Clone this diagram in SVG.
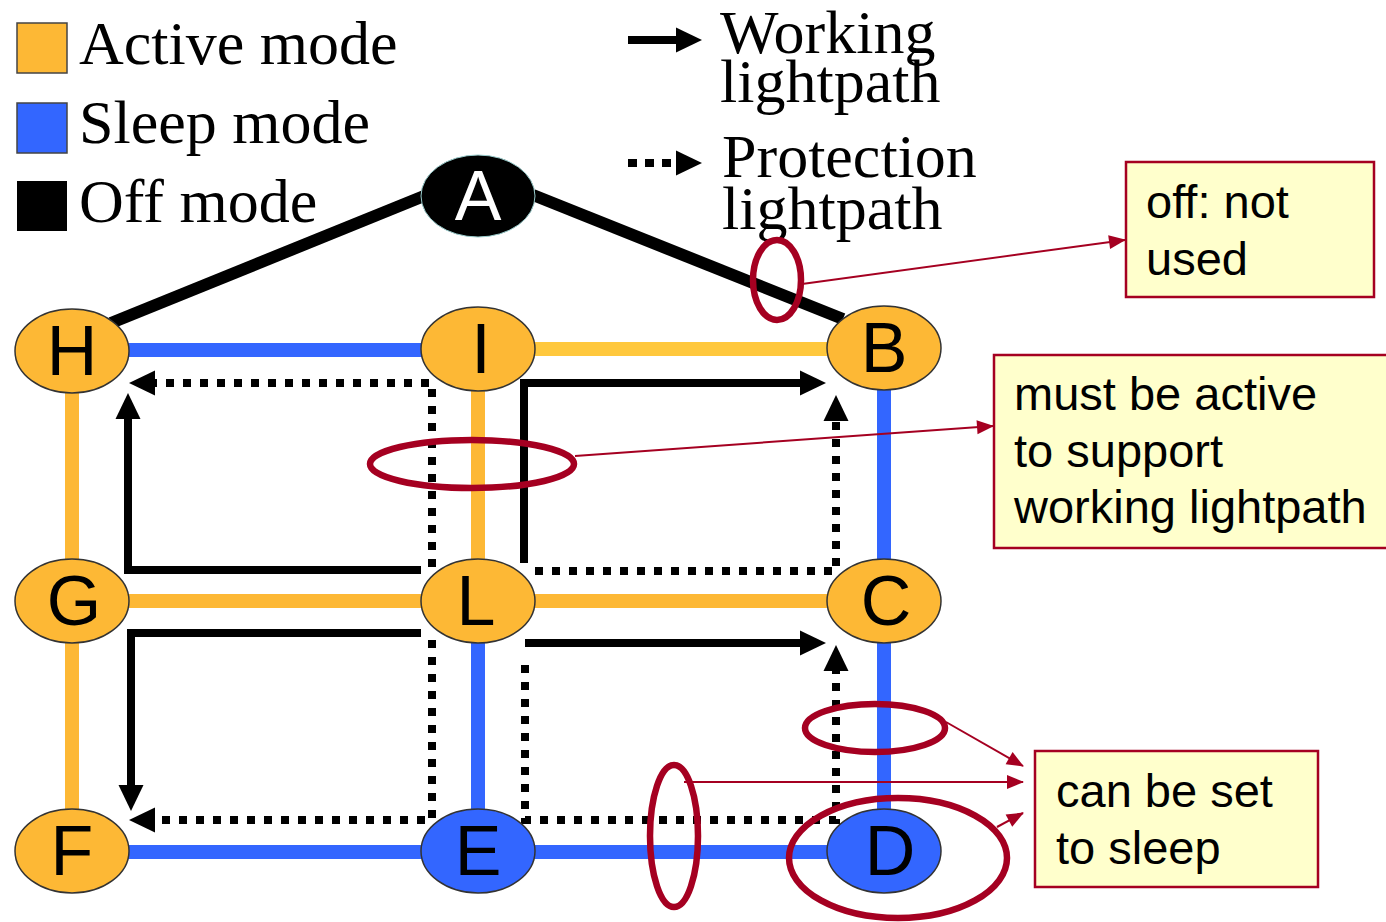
<svg xmlns="http://www.w3.org/2000/svg" width="1386" height="922" viewBox="0 0 1386 922">
<style>
.node{fill:#FDB835;stroke:#333;stroke-width:1.5}
.sleep{fill:#3366FF;stroke:#333;stroke-width:1.5}
.lbl{font-family:"Liberation Sans",Arial,sans-serif;font-size:70px;text-anchor:middle;fill:#000}
.leg{font-family:"Liberation Serif","Times New Roman",serif;font-size:62px;fill:#000}
.ann{font-family:"Liberation Sans",Arial,sans-serif;font-size:47px;fill:#000}
.box{fill:#FFFFCC;stroke:#A50021;stroke-width:2.5}
.ea{stroke:#FDB835;stroke-width:14;fill:none}
.es{stroke:#3366FF;stroke-width:14;fill:none}
.eo{stroke:#000;stroke-width:12;fill:none}
.work{stroke:#000;stroke-width:8;fill:none;marker-end:url(#ah)}
.prot{stroke:#000;stroke-width:8;fill:none;stroke-dasharray:8 9;marker-end:url(#ah)}
.ring{fill:none;stroke:#A50021;stroke-width:6.5}
.ptr{stroke:#A50021;stroke-width:2;fill:none;marker-end:url(#rh)}
</style>
<defs>
<marker id="ah" markerUnits="userSpaceOnUse" markerWidth="28" markerHeight="28" refX="0" refY="12.5" orient="auto" overflow="visible">
<path d="M0,0 L26,12.5 L0,25 Z" fill="#000"/>
</marker>
<marker id="rh" markerUnits="userSpaceOnUse" markerWidth="18" markerHeight="14" refX="16" refY="7" orient="auto" overflow="visible">
<path d="M0,0 L17,7 L0,14 Z" fill="#A50021"/>
</marker>
</defs>
<rect width="1386" height="922" fill="#fff"/>

<g id="legend">
<rect x="17" y="23" width="50" height="50" fill="#FDB835" stroke="#444" stroke-width="1.5"/>
<text class="leg" x="79" y="64">Active mode</text>
<rect x="17" y="103" width="50" height="50" fill="#3366FF" stroke="#444" stroke-width="1.5"/>
<text class="leg" x="79" y="143">Sleep mode</text>
<rect x="17" y="181" width="50" height="50" fill="#000"/>
<text class="leg" x="79" y="222">Off mode</text>
<path class="work" d="M628,40 H676"/>
<path class="prot" d="M628,163 H676" style="stroke-dasharray:9 8"/>
<text class="leg" x="720" y="53">Working</text>
<text class="leg" x="720" y="102">lightpath</text>
<text class="leg" x="722" y="177">Protection</text>
<text class="leg" x="722" y="229">lightpath</text>
</g>

<g id="links">
<line class="eo" x1="424" y1="196" x2="111" y2="323"/>
<line class="eo" x1="533" y1="195" x2="843" y2="319"/>
<line class="es" x1="72" y1="350" x2="478" y2="350"/>
<line class="ea" x1="478" y1="349" x2="884" y2="349" style="stroke:#FFC83D"/>
<line class="ea" x1="72" y1="350" x2="72" y2="601"/>
<line class="ea" x1="478" y1="349" x2="478" y2="601"/>
<line class="es" x1="884" y1="349" x2="884" y2="601"/>
<line class="ea" x1="72" y1="601" x2="884" y2="601"/>
<line class="ea" x1="72" y1="601" x2="72" y2="851"/>
<line class="es" x1="478" y1="601" x2="478" y2="851"/>
<line class="es" x1="884" y1="601" x2="884" y2="851"/>
<line class="es" x1="72" y1="852" x2="884" y2="852"/>
</g>

<g id="lightpaths">
<path class="work" d="M421,570 H128 V419"/>
<path class="work" d="M524,563 V383 H800"/>
<path class="prot" d="M432,567 V383 H155"/>
<path class="prot" d="M535,571 H836 V421"/>
<path class="work" d="M421,633 H131 V785"/>
<path class="work" d="M525,643 H800"/>
<path class="prot" d="M432,640 V820 H155"/>
<path class="prot" d="M525,665 V820 H836 V671"/>
</g>

<g id="node-A"><ellipse cx="478" cy="196" rx="57" ry="41" fill="#000" stroke="#9cc" stroke-width="1"/><text class="lbl" x="478" y="220" style="fill:#fff">A</text></g>
<g id="node-H"><ellipse class="node" cx="72" cy="351" rx="57" ry="42"/><text class="lbl" x="72" y="375">H</text></g>
<g id="node-I"><ellipse class="node" cx="478" cy="349" rx="57" ry="42"/><text class="lbl" x="481" y="373">I</text></g>
<g id="node-B"><ellipse class="node" cx="884" cy="348" rx="57" ry="42"/><text class="lbl" x="884" y="372">B</text></g>
<g id="node-G"><ellipse class="node" cx="72" cy="601" rx="57" ry="42"/><text class="lbl" x="74" y="625">G</text></g>
<g id="node-L"><ellipse class="node" cx="478" cy="601" rx="57" ry="42"/><text class="lbl" x="476" y="625">L</text></g>
<g id="node-C"><ellipse class="node" cx="884" cy="601" rx="57" ry="42"/><text class="lbl" x="886" y="625">C</text></g>
<g id="node-F"><ellipse class="node" cx="72" cy="851" rx="57" ry="42"/><text class="lbl" x="72" y="875">F</text></g>
<g id="node-E"><ellipse class="sleep" cx="478" cy="851" rx="57" ry="42"/><text class="lbl" x="478" y="875">E</text></g>
<g id="node-D"><ellipse class="sleep" cx="884" cy="851" rx="57" ry="42"/><text class="lbl" x="890" y="875">D</text></g>

<g id="highlights">
<ellipse class="ring" cx="777" cy="280" rx="24" ry="40"/>
<ellipse class="ring" cx="472" cy="464" rx="102" ry="24"/>
<ellipse class="ring" cx="875" cy="728" rx="70" ry="24"/>
<ellipse class="ring" cx="674" cy="836" rx="24" ry="71"/>
<ellipse class="ring" cx="898" cy="858" rx="109" ry="60"/>
</g>

<g id="pointers">
<line class="ptr" x1="802" y1="284" x2="1125" y2="240"/>
<line class="ptr" x1="575" y1="456" x2="993" y2="426"/>
<line class="ptr" x1="946" y1="722" x2="1023" y2="766"/>
<line class="ptr" x1="684" y1="782" x2="1023" y2="782"/>
<line class="ptr" x1="997" y1="827" x2="1023" y2="813"/>
</g>

<g id="note-off">
<rect class="box" x="1126" y="162" width="248" height="135"/>
<text class="ann" x="1146" y="218">off: not</text>
<text class="ann" x="1146" y="275">used</text>
</g>
<g id="note-active">
<rect class="box" x="994" y="355" width="400" height="193"/>
<text class="ann" x="1014" y="410">must be active</text>
<text class="ann" x="1014" y="467">to support</text>
<text class="ann" x="1014" y="523">working lightpath</text>
</g>
<g id="note-sleep">
<rect class="box" x="1035" y="751" width="283" height="136"/>
<text class="ann" x="1056" y="807">can be set</text>
<text class="ann" x="1056" y="864">to sleep</text>
</g>
</svg>
